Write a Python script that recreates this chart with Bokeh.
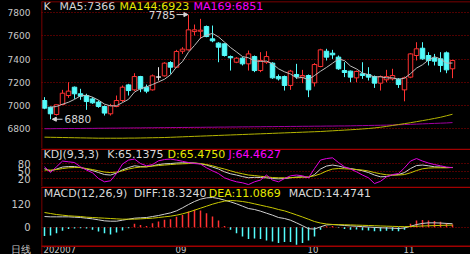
import numpy as np
from bokeh.plotting import figure
from bokeh.layouts import column
from bokeh.models import (ColumnDataSource, FixedTicker, Label, Arrow, NormalHead,
                          BoxAnnotation, Range1d)
from bokeh.core.properties import value
from bokeh.embed import file_html
from bokeh.resources import INLINE

# ---------------- data ----------------
opens = [7042, 6984, 6921, 7007, 7085, 7157, 7100, 7085, 7056, 7028, 6990, 6927, 6990, 7042, 7177,
         7134, 7249, 7157, 7134, 7245, 7255, 7370, 7330, 7468, 7480, 7638, 7641, 7682, 7575, 7538,
         7532, 7422, 7373, 7408, 7359, 7422, 7301, 7373, 7365, 7249, 7249, 7172, 7267, 7244, 7258,
         7195, 7336, 7468, 7451, 7417, 7301, 7296, 7238, 7273, 7267, 7249, 7192, 7221, 7229, 7226,
         7134, 7244, 7431, 7494, 7431, 7410, 7402, 7454, 7316]
closes = [6976, 6927, 7005, 7105, 7123, 7100, 7079, 7033, 7022, 6990, 6933, 6999, 7042, 7157, 7128,
          7249, 7143, 7123, 7255, 7245, 7365, 7330, 7466, 7486, 7653, 7653, 7650, 7595, 7558, 7503,
          7431, 7411, 7408, 7359, 7445, 7301, 7388, 7422, 7238, 7229, 7172, 7296, 7249, 7258, 7134,
          7353, 7480, 7417, 7437, 7316, 7284, 7244, 7293, 7258, 7244, 7192, 7249, 7249, 7258, 7180,
          7238, 7445, 7489, 7402, 7388, 7382, 7345, 7307, 7388]
highs = [7071, 6990, 7007, 7134, 7200, 7163, 7143, 7100, 7071, 7042, 6999, 7013, 7085, 7172, 7186,
         7278, 7255, 7180, 7267, 7330, 7373, 7382, 7480, 7503, 7785, 7699, 7748, 7690, 7690, 7546,
         7538, 7431, 7417, 7417, 7474, 7431, 7460, 7468, 7373, 7267, 7258, 7307, 7359, 7307, 7267,
         7365, 7489, 7489, 7480, 7431, 7373, 7301, 7301, 7373, 7330, 7258, 7258, 7307, 7316, 7235,
         7249, 7451, 7546, 7546, 7460, 7445, 7460, 7466, 7394]
lows = [6967, 6880, 6912, 7002, 7065, 7056, 7048, 6961, 7013, 6979, 6912, 6912, 6984, 7028, 7085,
        7123, 7114, 7105, 7128, 7215, 7249, 7273, 7324, 7445, 7474, 7604, 7575, 7589, 7546, 7373,
        7422, 7301, 7365, 7345, 7301, 7287, 7287, 7359, 7229, 7215, 7128, 7134, 7229, 7192, 7071,
        7163, 7330, 7388, 7402, 7307, 7244, 7200, 7200, 7229, 7215, 7151, 7128, 7200, 7215, 7151,
        7035, 7235, 7388, 7394, 7345, 7345, 7287, 7278, 7235]
ma5 = [np.nan, 6984, 6990, 7010, 7027, 7052, 7082, 7088, 7071, 7045, 7011, 6995, 6997, 7024, 7052,
       7115, 7144, 7160, 7180, 7203, 7226, 7264, 7332, 7378, 7460, 7518, 7582, 7607, 7622, 7592,
       7547, 7500, 7462, 7422, 7411, 7385, 7380, 7383, 7359, 7316, 7290, 7271, 7237, 7241, 7222,
       7258, 7295, 7328, 7364, 7401, 7387, 7340, 7315, 7279, 7265, 7246, 7247, 7238, 7238, 7226,
       7235, 7274, 7322, 7351, 7392, 7421, 7401, 7365, 7366]
ma144 = [6725, 6724, 6723, 6722, 6721, 6720, 6719, 6718, 6717, 6716, 6716, 6716, 6716, 6716, 6717,
         6717, 6718, 6719, 6720, 6721, 6722, 6724, 6726, 6728, 6730, 6732, 6734, 6736, 6738, 6740,
         6742, 6744, 6746, 6748, 6750, 6752, 6754, 6756, 6758, 6760, 6762, 6764, 6766, 6768, 6770,
         6772, 6774, 6777, 6780, 6783, 6786, 6789, 6792, 6796, 6800, 6805, 6811, 6818, 6826, 6834,
         6842, 6850, 6859, 6868, 6877, 6887, 6897, 6910, 6923]
ma169 = [6798, 6798, 6799, 6799, 6800, 6800, 6800, 6801, 6801, 6802, 6802, 6803, 6803, 6804, 6804,
         6805, 6805, 6806, 6806, 6807, 6807, 6808, 6808, 6809, 6809, 6810, 6810, 6811, 6811, 6812,
         6812, 6813, 6813, 6814, 6814, 6815, 6815, 6816, 6816, 6817, 6817, 6818, 6818, 6819, 6819,
         6820, 6820, 6821, 6821, 6822, 6822, 6823, 6824, 6825, 6826, 6827, 6828, 6829, 6830, 6832,
         6834, 6836, 6838, 6840, 6842, 6844, 6846, 6848, 6851]
k_vals = [61, 51, 59, 67, 69, 69, 65, 59, 53, 45, 37, 35, 43, 56, 65, 72, 69, 68, 72, 77,
          80, 81, 83, 84, 84, 83, 80, 75, 67, 59, 48, 40, 35, 29, 24, 26, 25, 24, 21, 20,
          21, 24, 27, 28, 25, 37, 59, 71, 75, 71, 65, 61, 57, 52, 45, 35, 28, 29, 35, 37,
          45, 61, 73, 75, 72, 68, 67, 65, 65.1375]
d_vals = [55, 55, 57, 61, 64, 65, 65, 61, 57, 52, 47, 45, 47, 52, 59, 64, 67, 68, 71, 73,
          75, 77, 79, 80, 81, 83, 81, 77, 72, 65, 59, 52, 45, 40, 35, 33, 30, 28, 25, 24,
          24, 25, 25, 27, 28, 32, 40, 51, 59, 61, 60, 59, 57, 55, 51, 45, 40, 36, 35, 35,
          37, 44, 53, 60, 63, 64, 64, 64, 65.4750]
j_vals = [68, 45, 68, 91, 88, 85, 68, 55, 44, 21, 8, 12, 41, 79, 95, 99, 81, 72, 77, 92,
          97, 99, 95, 90, 85, 81, 79, 64, 52, 41, 24, 15, 8, 4, -3, 8, 15, 35, 15, 8,
          21, 32, 35, 32, 24, 61, 95, 101, 104, 85, 68, 59, 48, 35, 24, 1, 10, 28, 37, 41,
          64, 91, 101, 91, 83, 77, 72, 67, 64.4627]
diff_vals = [56.5, 54.8, 54.8, 54.8, 54.8, 53.0, 51.3, 47.7, 44.2, 38.9, 33.6, 31.8, 31.8, 37.1, 42.4,
             47.7, 49.5, 51.3, 56.5, 61.8, 68.9, 75.9, 86.5, 102.4, 120.0, 135.9, 148.3, 155.3, 157.1,
             151.8, 143.0, 134.2, 123.6, 111.2, 98.9, 93.6, 84.8, 74.2, 63.6, 51.3, 46.0, 37.0, 23.0,
             8.0, -8.0, -10.0, 2.0, 12.0, 14.0, 12.0, 9.0, 7.0, 5.0, 3.0, 1.0, -1.0, -3.0, -4.0, -5.0,
             -7.0, -4.0, 5.0, 14.0, 20.0, 23.0, 23.0, 22.0, 20.0, 18.3240]
dea_vals = [77.7, 72.4, 67.1, 63.6, 60.1, 58.3, 56.5, 53.0, 51.3, 49.5, 47.7, 46.0, 44.2, 42.4, 42.4,
            42.4, 44.2, 46.0, 47.7, 51.3, 54.8, 58.3, 63.6, 70.7, 79.5, 90.0, 100.6, 111.2, 121.8,
            130.6, 137.7, 141.2, 139.4, 135.9, 130.6, 123.6, 116.5, 109.5, 102.4, 93.6, 86.5, 76.0,
            65.0, 54.0, 42.0, 30.0, 22.0, 17.0, 14.5, 13.5, 13.0, 12.0, 11.0, 10.0, 9.0, 8.0, 6.5,
            5.5, 4.5, 3.5, 3.0, 3.5, 5.0, 6.5, 7.5, 8.5, 9.5, 10.5, 11.0869]
macd_vals = [-46, -44, -32, -19, -10, -7, -5, -7, -14, -23, -32, -38, -28, -18, -5, 18, 11, 7, 21, 30,
             39, 42, 55, 65, 83, 92, 88, 74, 57, 35, 7, -14, -32, -49, -63, -60, -63, -70, -76, -84,
             -78, -78, -93, -84, -70, -49, -14, 5, 7, -3, -10, -13, -12, -16, -18, -21, -21, -19, -19,
             -21, -14, 18, 35, 38, 36, 33, 29, 22, 14.4741]
price_ticks = [6800, 7000, 7200, 7400, 7600, 7800]
kdj_ticks = [20, 50, 80]
macd_ticks = [0, 120]
month_ticks = [0, 22, 44, 60]
month_labels = ["202007", "09", "10", "11"]
period_label = "日线"

# ---------------- styles ----------------
RED = "#ff3232"
CYAN = "#54fcfc"
WHITE = "#e8e8e8"
BORDER = "#a00000"
AXIS_TXT = "#c8c8c8"
TXT_W = "#d8d8d8"
TXT_Y = "#e8e800"
TXT_M = "#ff00ff"
MA5_C = "#bdbdbd"
MA144_C = "#b4b400"
MA169_C = "#a000a0"
K_C = "#d0d0d0"
D_C = "#c8c800"
J_C = "#e000e0"
FONT = "DejaVu Sans"
W = 470
LEFT = 41

n = len(closes)
idx = np.arange(n)
o = np.array(opens, float)
c = np.array(closes, float)
h = np.array(highs, float)
l = np.array(lows, float)
top = np.maximum(o, c)
bot = np.minimum(o, c)
col = np.where(c > o, RED, np.where(c < o, CYAN, WHITE))
fill = np.where(c > o, "black", col)
X0, X1 = -0.5, n + 2


def rule(p, x0, x1, y0, y1):
    p.add_layout(BoxAnnotation(left=x0, right=x1, top=y0, bottom=y1, left_units="canvas",
                               right_units="canvas", top_units="canvas", bottom_units="canvas",
                               fill_color=BORDER, fill_alpha=1, line_color=None, level="overlay"))


def base_fig(frame_h, y0, y1, border_top=0):
    p = figure(frame_width=W - LEFT, frame_height=frame_h, x_range=Range1d(X0, X1),
               y_range=Range1d(y0, y1), output_backend="svg", toolbar_location=None,
               min_border_left=LEFT, min_border_right=0, min_border_top=border_top,
               min_border_bottom=0, background_fill_color="black",
               border_fill_color="black", outline_line_color=None, x_axis_location=None)
    p.xgrid.visible = False
    p.ygrid.grid_line_color = BORDER
    p.ygrid.grid_line_dash = "1 2"
    p.ygrid.grid_line_width = 1
    ax = p.yaxis[0]
    ax.axis_line_color = None
    ax.major_tick_line_color = None
    ax.minor_tick_line_color = None
    ax.major_label_text_color = AXIS_TXT
    ax.major_label_text_font = FONT
    ax.major_label_text_font_size = "10px"
    ax.major_label_standoff = 5
    return p


def add_titles(p, items, y):
    for txt, color, x in items:
        p.add_layout(Label(x=x, y=y, x_units="screen", y_units="screen", text=txt,
                           text_color=color, text_font=FONT, text_font_size="11px",
                           text_baseline="middle", text_align="left"))


# ---------------- main K panel ----------------
p1 = base_fig(147, 6627, 7898, border_top=1)
p1.yaxis[0].ticker = FixedTicker(ticks=price_ticks)
p1.yaxis[0].major_label_text_font_size = "9px"
p1.ygrid[0].ticker = FixedTicker(ticks=price_ticks)

src = ColumnDataSource(dict(x=idx, o=o, c=c, h=h, l=l, top=top, bot=bot, col=col, fill=fill))
p1.segment(x0="x", y0="h", x1="x", y1="top", line_color="col", line_width=1, source=src)
p1.segment(x0="x", y0="bot", x1="x", y1="l", line_color="col", line_width=1, source=src)
p1.vbar(x="x", width=0.75, top="top", bottom="bot", fill_color="fill", line_color="col",
        line_width=1, source=src)

p1.line(idx, np.array(ma169, float), line_color=MA169_C, line_width=1)
p1.line(idx, np.array(ma144, float), line_color=MA144_C, line_width=1)
p1.line(idx, np.array(ma5, float), line_color=MA5_C, line_width=1)

imax = int(np.argmax(h))
imin = int(np.argmin(l))
p1.add_layout(Arrow(end=NormalHead(size=4, fill_color=TXT_W, line_color=TXT_W),
                    x_start=imax - 2.0, y_start=h[imax], x_end=imax - 0.1, y_end=h[imax],
                    line_color=TXT_W, line_width=1))
p1.add_layout(Label(x=imax - 2.0, y=h[imax], text=f"{h[imax]:.0f}", text_color=TXT_W,
                    text_font=FONT, text_font_size="10.5px", text_align="right",
                    text_baseline="middle", x_offset=-1))
p1.add_layout(Arrow(end=NormalHead(size=4, fill_color=TXT_W, line_color=TXT_W),
                    x_start=imin + 2.0, y_start=l[imin], x_end=imin + 0.3, y_end=l[imin],
                    line_color=TXT_W, line_width=1))
p1.add_layout(Label(x=imin + 2.0, y=l[imin], text=f"{l[imin]:.0f}", text_color=TXT_W,
                    text_font=FONT, text_font_size="10.5px", text_align="left",
                    text_baseline="middle", x_offset=2))

add_titles(p1, [("K", TXT_W, 2), (f"MA5:{ma5[-1]:.0f}", TXT_W, 18),
                (f"MA144:{ma144[-1]:.0f}", TXT_Y, 78), (f"MA169:{ma169[-1]:.0f}", TXT_M, 152)], 142)
rule(p1, LEFT, W, 0.25, 1.75)
rule(p1, LEFT - 0.75, LEFT + 0.75, 0, 148)

# ---------------- KDJ panel ----------------
p2 = base_fig(38, -10.8, 141.2)
p2.yaxis[0].ticker = FixedTicker(ticks=kdj_ticks)
p2.ygrid[0].ticker = FixedTicker(ticks=kdj_ticks)
p2.line(idx, k_vals, line_color=K_C, line_width=1)
p2.line(idx, d_vals, line_color=D_C, line_width=1)
p2.line(idx, j_vals, line_color=J_C, line_width=1)
add_titles(p2, [("KDJ(9,3,3)", TXT_W, 2), (f"K:{k_vals[-1]:.4f}", TXT_W, 65.7),
                (f"D:{d_vals[-1]:.4f}", TXT_Y, 126), (f"J:{j_vals[-1]:.4f}", TXT_M, 187)], 32.5)
rule(p2, 0, W, 0, 1.5)
rule(p2, LEFT - 0.75, LEFT + 0.75, 0, 38)

# ---------------- MACD panel with the date strip below it (9 px) ----------------
MACD_LO, MACD_HI, MACD_H, STRIP_H = -96.8, 215.3, 59, 9
unit = (MACD_HI - MACD_LO) / MACD_H          # value units per pixel
strip_lo = MACD_LO - STRIP_H * unit
strip_mid = MACD_LO - 4.2 * unit
p3 = base_fig(MACD_H + STRIP_H, strip_lo, MACD_HI)
ax3 = p3.yaxis[0]
ax3.ticker = FixedTicker(ticks=macd_ticks + [strip_mid])
ax3.major_label_overrides = {strip_mid: period_label}
p3.ygrid[0].ticker = FixedTicker(ticks=[0])
mv = np.array(macd_vals, float)
msrc = ColumnDataSource(dict(x=idx, y0=np.zeros(n), y1=mv, col=np.where(mv >= 0, RED, CYAN)))
p3.segment(x0="x", y0="y0", x1="x", y1="y1", line_color="col", line_width=1.5, source=msrc)
p3.line(idx, diff_vals, line_color=K_C, line_width=1)
p3.line(idx, dea_vals, line_color=D_C, line_width=1)
add_titles(p3, [("MACD(12,26,9)", TXT_W, 2.3), (f"DIFF:{diff_vals[-1]:.4f}", TXT_W, 92.3),
                (f"DEA:{dea_vals[-1]:.4f}", TXT_Y, 167.3), (f"MACD:{macd_vals[-1]:.4f}", TXT_W, 247.3)],
           STRIP_H + 52.3)
p3.text(x=month_ticks, y=strip_mid, text=month_labels, text_color=AXIS_TXT, text_font=value(FONT),
        text_font_size="8.5px", text_baseline="middle", text_align="left", x_offset=-1)
rule(p3, 0, W, 0, 1.5)
rule(p3, 0, W, MACD_H, MACD_H + 1.5)
rule(p3, LEFT - 0.75, LEFT + 0.75, 0, MACD_H + STRIP_H)

layout = column(p1, p2, p3, spacing=0, styles={"background-color": "black"})
open("out.html", "w").write(file_html(layout, INLINE))
